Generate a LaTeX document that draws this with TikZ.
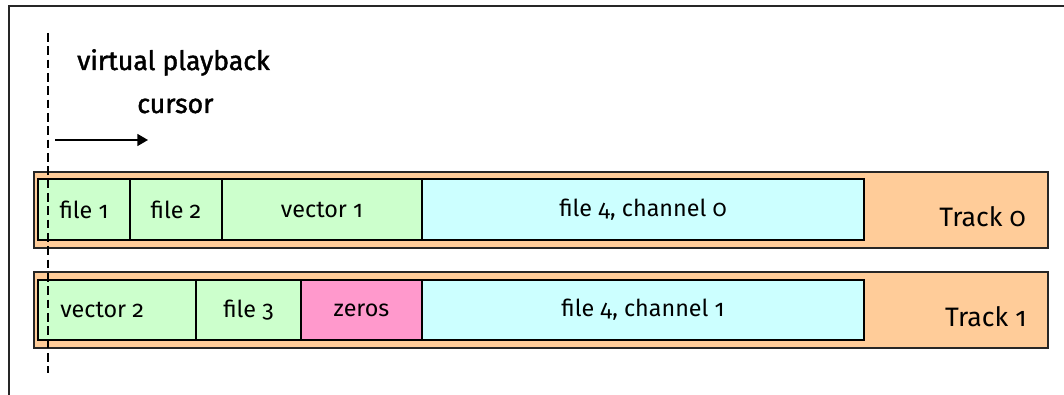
\documentclass[tikz,border=0pt]{standalone}
\usepackage{fontspec}
\setmainfont{Fira Sans}[Numbers=OldStyle]
\newfontfamily\headff{Fira Sans}[Numbers=OldStyle, FakeBold=1.6]
\usetikzlibrary{arrows.meta}
\definecolor{peach}{HTML}{FFCC99}
\definecolor{mint}{HTML}{CCFFCC}
\definecolor{aqua}{HTML}{CCFFFF}
\definecolor{rose}{HTML}{FF99CC}
\newcommand\labfont{\fontsize{17.5}{20}\selectfont}
\newcommand\trkfont{\fontsize{20}{23}\selectfont}
\newcommand\headfont{\headff\fontsize{20}{23}\selectfont}
\newcommand\cellbox[7]{\node[cell, fill=#6, minimum width={(#3-#2)*0.75pt}, minimum height={(#5-#4)*0.75pt}] (#1) at ({(#2+#3)/2},{(#4+#5)/2}) {#7};}
\tikzset{
  trackbox/.style={draw=black!85, line width=1.5pt, fill=peach, inner sep=0pt},
  cell/.style={draw=black, line width=1.3pt, inner sep=0pt, font=\labfont},
  lab/.style={inner sep=0pt, font=\labfont},
}
\begin{document}
\begin{tikzpicture}[x=0.75pt,y=-0.75pt]
\useasboundingbox (0,0) rectangle (1064,395);
% frame
\coordinate (fb) at (9,395);
\coordinate (ft) at (9,6);
\coordinate (fr) at (1064,6);
\draw[line width=1.4pt, black!85] (fb) -- (ft) -- (fr);
% tracks
\node[trackbox, minimum width={(1048-34)*0.75pt}, minimum height={(248-172)*0.75pt}] (t0) at ({(34+1048)/2},{(172+248)/2}) {};
\node[trackbox, minimum width={(1048-34)*0.75pt}, minimum height={(348-272)*0.75pt}] (t1) at ({(34+1048)/2},{(272+348)/2}) {};
% cells track 0
\cellbox{a1}{38}{130}{179}{240}{mint}{file 1}
\cellbox{a2}{130}{222}{179}{240}{mint}{file 2}
\cellbox{a3}{222}{422}{179}{240}{mint}{vector 1}
\cellbox{a4}{422}{864}{179}{240}{aqua}{file 4, channel 0}
% cells track 1
\cellbox{b1}{38}{196}{280}{340}{mint}{}
\cellbox{b2}{196}{301}{280}{340}{mint}{file 3}
\cellbox{b3}{301}{422}{280}{340}{rose}{zeros}
\cellbox{b4}{422}{864}{280}{340}{aqua}{file 4, channel 1}
\node[lab, anchor=west] (b1t) at (60,310) {vector 2};
% track labels
\node[inner sep=0pt, font=\trkfont, anchor=base east] (l0) at (1026,227) {Track 0};
\node[inner sep=0pt, font=\trkfont, anchor=base east] (l1) at (1027,327) {Track 1};
% cursor
\coordinate (ctop) at (48,33);
\coordinate (cbot) at (48,373);
\draw[line width=1.3pt, dash pattern=on 6.5pt off 3.5pt] (ctop) -- (cbot);
\node[inner sep=0pt, font=\headfont, anchor=base west] (h1) at (77,70) {virtual playback};
\node[inner sep=0pt, font=\headfont, anchor=base west] (h2) at (137,113) {cursor};
\coordinate (as) at (55,140);
\coordinate (ae) at (148,140);
\draw[line width=1.2pt, -{Triangle[length=8pt,width=9pt]}] (as) -- (ae);
\end{tikzpicture}
\end{document}
